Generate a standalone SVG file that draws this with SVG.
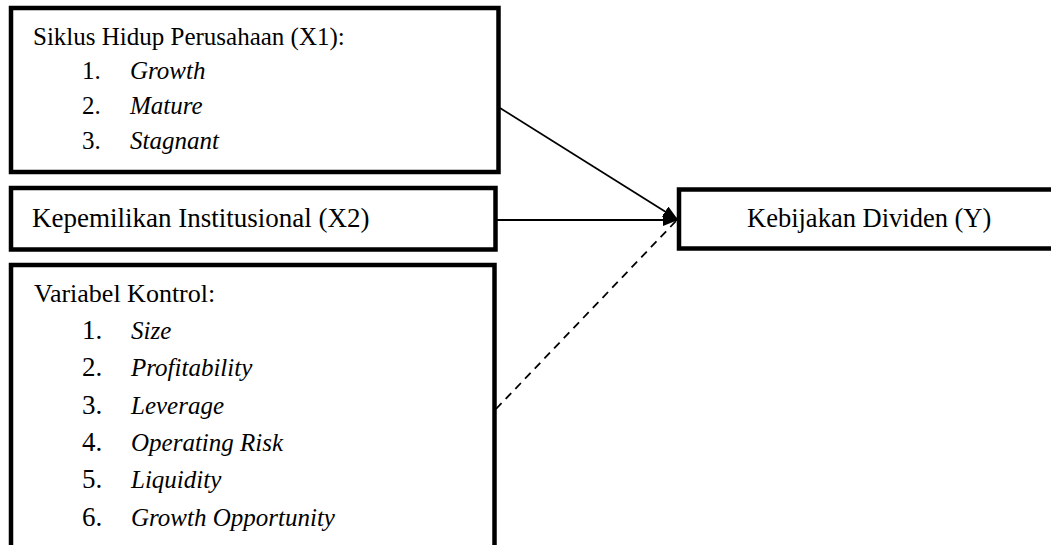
<svg xmlns="http://www.w3.org/2000/svg" width="1051" height="545" viewBox="0 0 1051 545">
<style>
.box{fill:#fff;stroke:#000;stroke-width:4.5}
.t{font-family:"Liberation Serif","Times New Roman",serif;font-size:25px;fill:#000}
.i{font-style:italic}
.n{font-size:27px}
.c{stroke:#000;stroke-width:1.8;fill:none}
</style>
<defs>
<marker id="ah" markerWidth="15" markerHeight="12" refX="14" refY="6" orient="auto" markerUnits="userSpaceOnUse">
<path d="M0,0 L15,6 L0,12 Z" fill="#000"/>
</marker>
</defs>
<rect width="1051" height="545" fill="#fff"/>
<g id="connectors">
<line class="c" x1="500" y1="108" x2="677" y2="219" marker-end="url(#ah)"/>
<line class="c" x1="497" y1="220" x2="677" y2="220" marker-end="url(#ah)"/>
<line class="c" x1="496" y1="409" x2="677" y2="220" stroke-dasharray="8,6"/>
</g>
<g id="x1">
<rect class="box" x="11" y="8" width="487.5" height="164"/>
<text class="t" x="33" y="45">Siklus Hidup Perusahaan (X1):</text>
<text class="t" x="82" y="79">1.</text><text class="t i" x="130" y="79">Growth</text>
<text class="t" x="82" y="114">2.</text><text class="t i" x="130" y="114">Mature</text>
<text class="t" x="82" y="149">3.</text><text class="t i" x="130" y="149">Stagnant</text>
</g>
<g id="x2">
<rect class="box" x="11" y="188" width="484.5" height="61.5"/>
<text class="t" x="32" y="227" style="font-size:27px">Kepemilikan Institusional (X2)</text>
</g>
<g id="control">
<rect class="box" x="11" y="265" width="483.5" height="300"/>
<text class="t" x="34" y="302" style="font-size:26px">Variabel Kontrol:</text>
<text class="t n" x="82" y="339">1.</text><text class="t i" x="131" y="339">Size</text>
<text class="t n" x="82" y="376">2.</text><text class="t i" x="131" y="376">Profitability</text>
<text class="t n" x="82" y="414">3.</text><text class="t i" x="131" y="414">Leverage</text>
<text class="t n" x="82" y="451">4.</text><text class="t i" x="131" y="451">Operating Risk</text>
<text class="t n" x="82" y="488">5.</text><text class="t i" x="131" y="488">Liquidity</text>
<text class="t n" x="82" y="526">6.</text><text class="t i" x="131" y="526">Growth Opportunity</text>
</g>
<g id="y">
<rect class="box" x="679" y="189.5" width="420" height="59"/>
<text class="t" x="747" y="227" style="font-size:26.5px">Kebijakan Dividen (Y)</text>
</g>
</svg>
